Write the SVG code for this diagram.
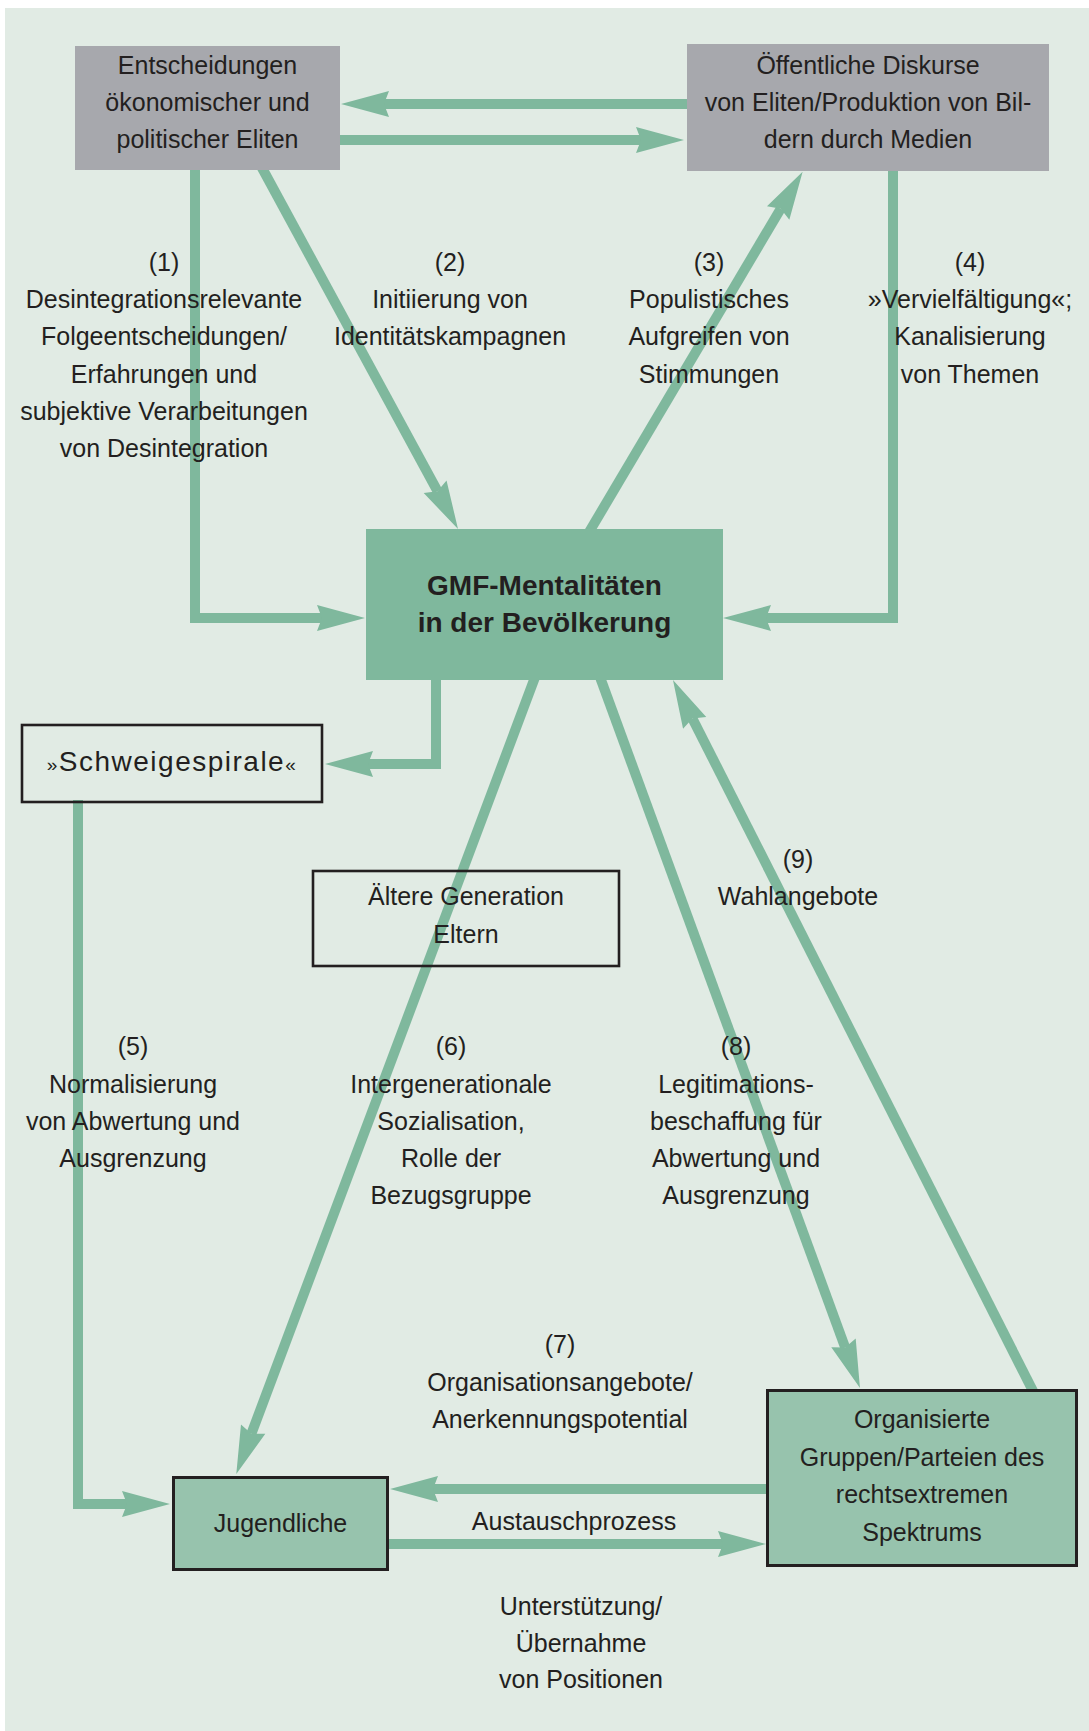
<svg xmlns="http://www.w3.org/2000/svg" width="1089" height="1731" viewBox="0 0 1089 1731">
<style>
.t{font-family:"Liberation Sans",Arial,sans-serif;font-size:25px;fill:#231f20;text-anchor:middle}
.b{font-weight:bold;font-size:28px}
.c{fill:none;stroke:#7fb89d;stroke-width:10;stroke-linejoin:miter;stroke-linecap:butt;marker-end:url(#ah)}
.grey{fill:#a7a8ad}
.frame{fill:none;stroke:#231f20;stroke-width:2.6}
.soft{fill:#97c3ad;stroke:#231f20;stroke-width:3}
</style>
<defs>
<marker id="ah" markerUnits="userSpaceOnUse" orient="auto" refX="0" refY="0" markerWidth="60" markerHeight="30" overflow="visible">
<path d="M43,0 L-5,-13 L0,0 L-5,13 Z" fill="#7fb89d"/>
</marker>
</defs>
<rect x="0" y="0" width="1089" height="1731" fill="#ffffff"/>
<rect x="5" y="8" width="1084" height="1723" fill="#e1ebe4"/>
<g id="connectors">
<path class="c" d="M690,104 L384,104"/>
<path class="c" d="M337,140 L641,140"/>
<path class="c" d="M195,166 L195,618 L322,618"/>
<path class="c" d="M261,166 L437.5,491.2"/>
<path class="c" d="M588.5,533 L780.7,208.7"/>
<path class="c" d="M893,168 L893,618 L766,618"/>
<path class="c" d="M436,676 L436,764 L368,764"/>
<path class="c" d="M78,800 L78,1504 L127,1504"/>
<path class="c" d="M535.5,676 L251.4,1433.8"/>
<path class="c" d="M770,1489 L433,1489"/>
<path class="c" d="M386,1544 L723,1544"/>
<path class="c" d="M599.6,676 L845.2,1347.6"/>
<path class="c" d="M1034,1393 L692.4,718.4"/>
</g>
<g id="node-eliten">
<rect class="grey" x="75" y="46" width="265" height="124"/>
<text class="t" x="207.5" y="74">Entscheidungen</text>
<text class="t" x="207.5" y="111">ökonomischer und</text>
<text class="t" x="207.5" y="148">politischer Eliten</text>
</g>
<g id="node-diskurse">
<rect class="grey" x="687" y="44" width="362" height="127"/>
<text class="t" x="868" y="74">Öffentliche Diskurse</text>
<text class="t" x="868" y="111">von Eliten/Produktion von Bil-</text>
<text class="t" x="868" y="148">dern durch Medien</text>
</g>
<g id="node-gmf">
<rect x="366" y="529" width="357" height="151" fill="#7fb89d"/>
<text class="t b" x="544.5" y="595">GMF-Mentalitäten</text>
<text class="t b" x="544.5" y="632">in der Bevölkerung</text>
</g>
<g id="node-schweige">
<rect class="frame" x="22" y="725" width="300" height="77"/>
<text class="t" x="172" y="771" style="font-size:28px;letter-spacing:1.5px"><tspan style="font-size:19px">»</tspan>Schweigespirale<tspan style="font-size:19px">«</tspan></text>
</g>
<g id="node-aeltere">
<rect class="frame" x="313" y="871" width="306" height="95"/>
<text class="t" x="466" y="905">Ältere Generation</text>
<text class="t" x="466" y="943">Eltern</text>
</g>
<g id="node-jugendliche">
<rect class="soft" x="173.5" y="1477.5" width="214" height="92"/>
<text class="t" x="280.5" y="1532">Jugendliche</text>
</g>
<g id="node-organisierte">
<rect class="soft" x="767.5" y="1390.5" width="309" height="175"/>
<text class="t" x="922" y="1428">Organisierte</text>
<text class="t" x="922" y="1466">Gruppen/Parteien des</text>
<text class="t" x="922" y="1503">rechtsextremen</text>
<text class="t" x="922" y="1541">Spektrums</text>
</g>
<g id="labels">
<text class="t" x="164" y="271">(1)</text>
<text class="t" x="164" y="308">Desintegrationsrelevante</text>
<text class="t" x="164" y="345">Folgeentscheidungen/</text>
<text class="t" x="164" y="383">Erfahrungen und</text>
<text class="t" x="164" y="420">subjektive Verarbeitungen</text>
<text class="t" x="164" y="457">von Desintegration</text>
<text class="t" x="450" y="271">(2)</text>
<text class="t" x="450" y="308">Initiierung von</text>
<text class="t" x="450" y="345">Identitätskampagnen</text>
<text class="t" x="709" y="271">(3)</text>
<text class="t" x="709" y="308">Populistisches</text>
<text class="t" x="709" y="345">Aufgreifen von</text>
<text class="t" x="709" y="383">Stimmungen</text>
<text class="t" x="970" y="271">(4)</text>
<text class="t" x="970" y="308">»Vervielfältigung«;</text>
<text class="t" x="970" y="345">Kanalisierung</text>
<text class="t" x="970" y="383">von Themen</text>
<text class="t" x="798" y="868">(9)</text>
<text class="t" x="798" y="905">Wahlangebote</text>
<text class="t" x="133" y="1055">(5)</text>
<text class="t" x="133" y="1093">Normalisierung</text>
<text class="t" x="133" y="1130">von Abwertung und</text>
<text class="t" x="133" y="1167">Ausgrenzung</text>
<text class="t" x="451" y="1055">(6)</text>
<text class="t" x="451" y="1093">Intergenerationale</text>
<text class="t" x="451" y="1130">Sozialisation,</text>
<text class="t" x="451" y="1167">Rolle der</text>
<text class="t" x="451" y="1204">Bezugsgruppe</text>
<text class="t" x="736" y="1055">(8)</text>
<text class="t" x="736" y="1093">Legitimations-</text>
<text class="t" x="736" y="1130">beschaffung für</text>
<text class="t" x="736" y="1167">Abwertung und</text>
<text class="t" x="736" y="1204">Ausgrenzung</text>
<text class="t" x="560" y="1353">(7)</text>
<text class="t" x="560" y="1391">Organisationsangebote/</text>
<text class="t" x="560" y="1428">Anerkennungspotential</text>
<text class="t" x="574" y="1530">Austauschprozess</text>
<text class="t" x="581" y="1615">Unterstützung/</text>
<text class="t" x="581" y="1652">Übernahme</text>
<text class="t" x="581" y="1688">von Positionen</text>
</g>
</svg>
